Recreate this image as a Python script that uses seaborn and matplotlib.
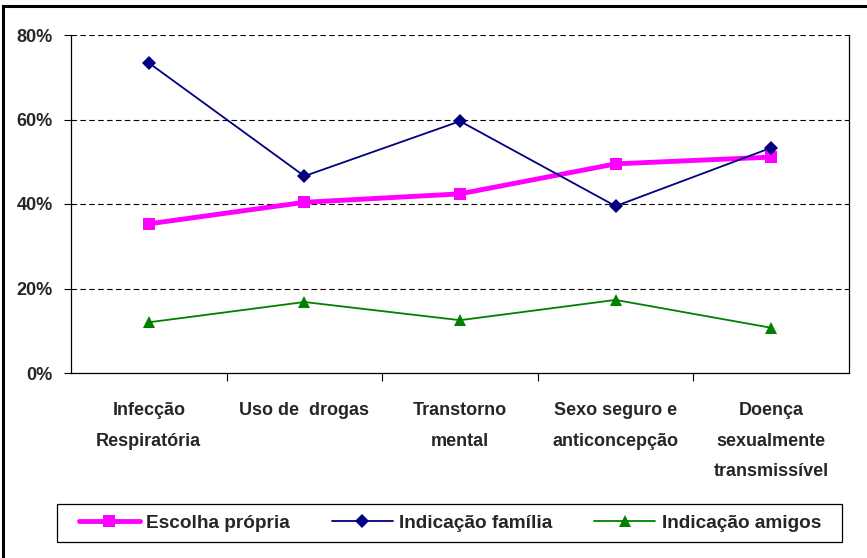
import pandas as pd
import seaborn as sns
import matplotlib.pyplot as plt
from matplotlib.patches import Rectangle
from matplotlib.ticker import FixedLocator, PercentFormatter

categorias = ["Infecção\nRespiratória", "Uso de  drogas", "Transtorno\nmental",
              "Sexo seguro e\nanticoncepção", "Doença\nsexualmente\ntransmissível"]
escolha_propria = [0.353, 0.404, 0.424, 0.495, 0.511]
indicacao_familia = [0.734, 0.466, 0.596, 0.395, 0.533]
indicacao_amigos = [0.120, 0.168, 0.125, 0.173, 0.107]

sns.set_style("white")
plt.rcParams['font.family'] = ['Liberation Sans', 'DejaVu Sans']
plt.rcParams['font.weight'] = 'bold'

fig = plt.figure(figsize=(8.67, 5.58), dpi=100)
ax = fig.add_axes([71 / 867, 1 - 373 / 558, 778 / 867, 338 / 558])

pos = list(range(len(categorias)))
sns.lineplot(x=pos, y=escolha_propria, ax=ax, color="#FF00FF", lw=3.5,
             marker="s", markersize=8, markeredgewidth=0, label="Escolha própria")
sns.lineplot(x=pos, y=indicacao_familia, ax=ax, color="#000080", lw=1.3,
             marker="D", markersize=7, markeredgewidth=0, label="Indicação família")
sns.lineplot(x=pos, y=indicacao_amigos, ax=ax, color="#008000", lw=1.3,
             marker="^", markersize=9, markeredgewidth=0, label="Indicação amigos")

ax.set_xlim(-0.5, len(categorias) - 0.5)
ax.set_ylim(0, 0.8)
ax.set_yticks([0, 0.2, 0.4, 0.6, 0.8])
ax.yaxis.set_major_formatter(PercentFormatter(1.0, decimals=0))
for y in [0.2, 0.4, 0.6, 0.8]:
    ax.axhline(y, color="black", lw=0.8, ls=(0, (5, 3)), zorder=0)

ax.set_xticks(pos)
ax.set_xticklabels(categorias, fontsize=13, fontweight="bold", linespacing=2.05, va="top")
ax.xaxis.set_minor_locator(FixedLocator([0.5, 1.5, 2.5, 3.5]))
ax.tick_params(axis="x", which="major", length=0, pad=21)
ax.tick_params(axis="x", which="minor", length=6, width=0.8, direction="out", color="black")
ax.tick_params(axis="y", length=5, width=0.8, direction="out", color="black", labelsize=13, pad=8)
ax.tick_params(axis="both", which="both", bottom=True, left=True)
for lab in ax.get_yticklabels():
    lab.set_fontweight("bold")

for side in ["left", "bottom", "right"]:
    ax.spines[side].set_color("black")
    ax.spines[side].set_linewidth(0.9)
ax.spines["top"].set_visible(False)
ax.set_xlabel("")
ax.set_ylabel("")

ax.get_legend().remove()
handles, labels = ax.get_legend_handles_labels()
leg = fig.legend(handles, labels, ncol=3, loc="center",
                 bbox_to_anchor=(450 / 867, 1 - 523 / 558), frameon=False,
                 handlelength=3.2, handletextpad=0.35, columnspacing=2.2,
                 borderaxespad=0, prop={"size": 13.7, "weight": "bold"})

fig.patches.append(Rectangle((57 / 867, 1 - 542 / 558), 785 / 867, 38 / 558,
                             transform=fig.transFigure, fill=False,
                             edgecolor="black", lw=0.9))
fig.patches.append(Rectangle((0.003, -0.01), 1.2, 1.0, transform=fig.transFigure,
                             fill=False, edgecolor="black", lw=2.2))

fig.savefig("out.png", dpi=100)
